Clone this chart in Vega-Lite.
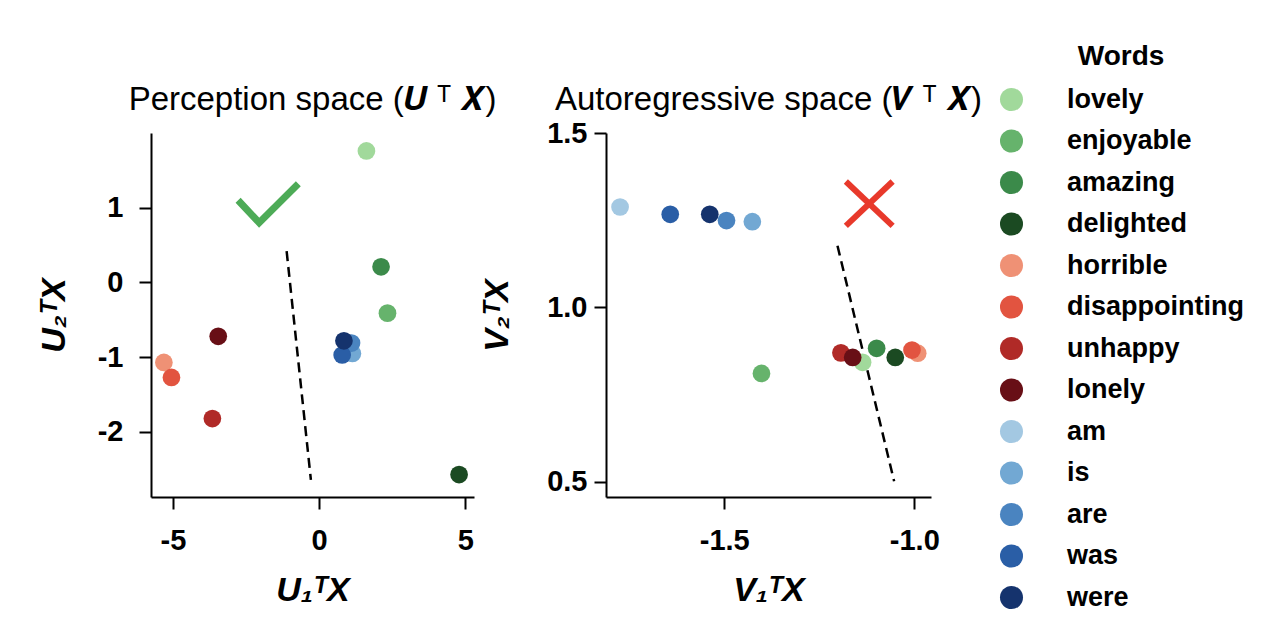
{
  "$schema": "https://vega.github.io/schema/vega-lite/v6.json",
  "padding": {"left": 37, "top": 43, "right": 5, "bottom": 5},
  "datasets": {
    "points": [
      {"space": "U", "word": "lovely", "x": 1.62, "y": 1.76},
      {"space": "U", "word": "enjoyable", "x": 2.34, "y": -0.41},
      {"space": "U", "word": "amazing", "x": 2.12, "y": 0.21},
      {"space": "U", "word": "delighted", "x": 4.79, "y": -2.57},
      {"space": "U", "word": "horrible", "x": -5.31, "y": -1.07},
      {"space": "U", "word": "disappointing", "x": -5.05, "y": -1.27},
      {"space": "U", "word": "unhappy", "x": -3.65, "y": -1.82},
      {"space": "U", "word": "lonely", "x": -3.45, "y": -0.72},
      {"space": "U", "word": "am", "x": 1.05, "y": -0.9},
      {"space": "U", "word": "is", "x": 1.14, "y": -0.95},
      {"space": "U", "word": "are", "x": 1.11, "y": -0.81},
      {"space": "U", "word": "was", "x": 0.79, "y": -0.97},
      {"space": "U", "word": "were", "x": 0.85, "y": -0.78},
      {"space": "V", "word": "lovely", "x": -1.136, "y": 0.843},
      {"space": "V", "word": "enjoyable", "x": -1.402, "y": 0.811},
      {"space": "V", "word": "amazing", "x": -1.099, "y": 0.883},
      {"space": "V", "word": "delighted", "x": -1.05, "y": 0.857},
      {"space": "V", "word": "horrible", "x": -0.991, "y": 0.869},
      {"space": "V", "word": "disappointing", "x": -1.006, "y": 0.878},
      {"space": "V", "word": "unhappy", "x": -1.193, "y": 0.87},
      {"space": "V", "word": "lonely", "x": -1.162, "y": 0.857},
      {"space": "V", "word": "am", "x": -1.774, "y": 1.288},
      {"space": "V", "word": "is", "x": -1.426, "y": 1.246},
      {"space": "V", "word": "are", "x": -1.494, "y": 1.249},
      {"space": "V", "word": "was", "x": -1.642, "y": 1.267},
      {"space": "V", "word": "were", "x": -1.538, "y": 1.267}
    ],
    "guides": [
      {"space": "U", "shape": "dash", "stroke": "a", "i": 0, "x": -1.11, "y": 0.42},
      {"space": "U", "shape": "dash", "stroke": "a", "i": 1, "x": -0.28, "y": -2.64},
      {"space": "U", "shape": "check", "stroke": "a", "i": 0, "x": -2.77, "y": 1.1},
      {"space": "U", "shape": "check", "stroke": "a", "i": 1, "x": -2.05, "y": 0.8},
      {"space": "U", "shape": "check", "stroke": "a", "i": 2, "x": -0.71, "y": 1.32},
      {"space": "V", "shape": "dash", "stroke": "a", "i": 0, "x": -1.202, "y": 1.177},
      {"space": "V", "shape": "dash", "stroke": "a", "i": 1, "x": -1.053, "y": 0.502},
      {"space": "V", "shape": "cross", "stroke": "a", "i": 0, "x": -1.18, "y": 1.361},
      {"space": "V", "shape": "cross", "stroke": "a", "i": 1, "x": -1.057, "y": 1.234},
      {"space": "V", "shape": "cross", "stroke": "b", "i": 0, "x": -1.18, "y": 1.234},
      {"space": "V", "shape": "cross", "stroke": "b", "i": 1, "x": -1.057, "y": 1.361}
    ]
  },
  "bounds": "flush",
  "spacing": 132,
  "hconcat": [
    {
      "width": 323,
      "height": 364,
      "title": {"text": "Perception space (𝑼 ᵀ 𝑿)", "offset": 16},
      "layer": [
        {
          "data": {"name": "guides"},
          "transform": [{"filter": "datum.space === 'U' && datum.shape === 'dash'"}],
          "mark": {"type": "line", "color": "black", "strokeWidth": 2.5, "strokeDash": [10, 6]},
          "encoding": {
            "x": {"field": "x", "type": "quantitative"},
            "y": {"field": "y", "type": "quantitative"},
            "order": {"field": "i"}
          }
        },
        {
          "data": {"name": "guides"},
          "transform": [{"filter": "datum.space === 'U' && datum.shape === 'check'"}],
          "mark": {"type": "line", "color": "#4dab57", "strokeWidth": 7, "strokeCap": "butt", "strokeJoin": "miter"},
          "encoding": {
            "x": {"field": "x", "type": "quantitative"},
            "y": {"field": "y", "type": "quantitative"},
            "order": {"field": "i"}
          }
        },
        {
          "data": {"name": "points"},
          "transform": [{"filter": "datum.space === 'U'"}],
          "mark": {"type": "circle", "size": 314, "opacity": 1},
          "encoding": {
            "x": {
              "field": "x", "type": "quantitative",
              "scale": {"domain": [-5.75, 5.3], "nice": false, "zero": false},
              "axis": {"values": [-5, 0, 5], "format": "d", "title": "U₁ᵀX"}
            },
            "y": {
              "field": "y", "type": "quantitative",
              "scale": {"domain": [-2.87, 2.0], "nice": false, "zero": false},
              "axis": {"values": [-2, -1, 0, 1], "format": "d", "labelPadding": 16, "titlePadding": 26, "title": "U₂ᵀX"}
            },
            "color": {
              "field": "word", "type": "nominal",
              "scale": {
                "domain": ["lovely", "enjoyable", "amazing", "delighted", "horrible", "disappointing", "unhappy", "lonely", "am", "is", "are", "was", "were"],
                "range": ["#a1d99b", "#66b36c", "#3b8a4a", "#1b4a22", "#ef9175", "#e25440", "#b02a27", "#680f16", "#a3c8e2", "#72a8d3", "#4a84c0", "#2a5ea6", "#15336d"]
              },
              "legend": {"orient": "none", "legendX": 847, "legendY": -90, "title": "Words"}
            }
          }
        }
      ]
    },
    {
      "width": 325,
      "height": 364,
      "title": {"text": "Autoregressive space (𝑽 ᵀ 𝑿)", "offset": 2},
      "layer": [
        {
          "data": {"name": "guides"},
          "transform": [{"filter": "datum.space === 'V' && datum.shape === 'dash'"}],
          "mark": {"type": "line", "color": "black", "strokeWidth": 2.5, "strokeDash": [10, 6]},
          "encoding": {
            "x": {"field": "x", "type": "quantitative"},
            "y": {"field": "y", "type": "quantitative"},
            "order": {"field": "i"}
          }
        },
        {
          "data": {"name": "guides"},
          "transform": [{"filter": "datum.space === 'V' && datum.shape === 'cross'"}],
          "mark": {"type": "line", "color": "#e8392b", "strokeWidth": 6, "strokeCap": "butt"},
          "encoding": {
            "x": {"field": "x", "type": "quantitative"},
            "y": {"field": "y", "type": "quantitative"},
            "detail": {"field": "stroke"},
            "order": {"field": "i"}
          }
        },
        {
          "data": {"name": "points"},
          "transform": [{"filter": "datum.space === 'V'"}],
          "mark": {"type": "circle", "size": 314, "opacity": 1},
          "encoding": {
            "x": {
              "field": "x", "type": "quantitative",
              "scale": {"domain": [-1.811, -0.956], "nice": false, "zero": false},
              "axis": {"values": [-1.5, -1.0], "format": ".1f", "title": "V₁ᵀX"}
            },
            "y": {
              "field": "y", "type": "quantitative",
              "scale": {"domain": [0.457, 1.5], "nice": false, "zero": false},
              "axis": {"values": [0.5, 1.0, 1.5], "format": ".1f", "labelPadding": 7, "titlePadding": 32, "title": "V₂ᵀX"}
            },
            "color": {
              "field": "word", "type": "nominal",
              "legend": {"orient": "none", "legendX": 847, "legendY": -90, "title": "Words"}
            }
          }
        }
      ]
    }
  ],
  "config": {
    "font": "Liberation Sans",
    "view": {"stroke": null},
    "axis": {
      "grid": false,
      "domainColor": "black",
      "domainWidth": 2,
      "tickColor": "black",
      "tickWidth": 2,
      "tickSize": 12,
      "labelFontSize": 29,
      "labelFontWeight": "bold",
      "labelColor": "black",
      "labelExpr": "replace(datum.label, '−', '-')",
      "titleFontSize": 34,
      "titleFontWeight": "bold",
      "titleFontStyle": "italic",
      "titleColor": "black"
    },
    "axisX": {"labelPadding": 17, "titlePadding": 18},
    "title": {"fontSize": 33, "fontWeight": "normal", "color": "black"},
    "legend": {
      "titleFontSize": 28,
      "titleFontWeight": "bold",
      "titleColor": "black",
      "titleAnchor": "middle",
      "titlePadding": 15,
      "labelFontSize": 27,
      "labelFontWeight": "bold",
      "labelColor": "black",
      "labelOffset": 42,
      "labelLimit": 400,
      "symbolSize": 530,
      "symbolType": "circle",
      "symbolOpacity": 1,
      "symbolStrokeWidth": 0,
      "rowPadding": 13.5
    }
  }
}
